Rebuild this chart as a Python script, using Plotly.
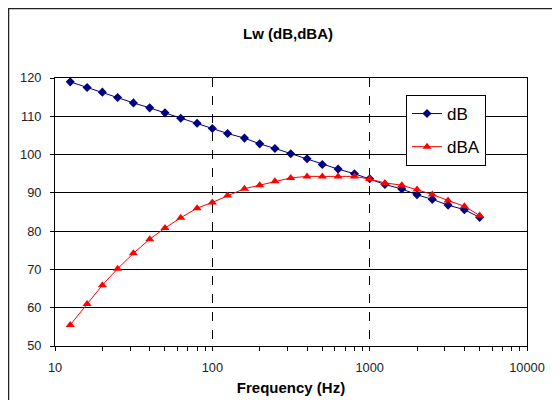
import plotly.graph_objects as go

freq = [12.5, 16, 20, 25, 31.5, 40, 50, 63, 80, 100, 125, 160, 200, 250, 315,
        400, 500, 630, 800, 1000, 1250, 1600, 2000, 2500, 3150, 4000, 5000]
lw_db = [119.0, 117.5, 116.3, 114.9, 113.5, 112.2, 110.9, 109.5, 108.2, 106.8,
         105.5, 104.3, 102.8, 101.6, 100.2, 98.9, 97.4, 96.2, 95.0, 93.7,
         92.2, 91.0, 89.5, 88.3, 86.8, 85.6, 83.6]
lw_dba = [55.5, 61.0, 65.9, 70.2, 74.2, 77.9, 80.8, 83.5, 86.0, 87.5,
          89.3, 91.1, 92.0, 93.0, 93.9, 94.3, 94.3, 94.3, 94.3, 93.6,
          92.6, 92.0, 90.9, 89.6, 88.0, 86.5, 84.1]
series_names = ["dB", "dBA"]
x_major = [10, 100, 1000, 10000]
x_minor = [m * d for d in (10, 100, 1000) for m in range(2, 10)]
y_ticks = [50, 60, 70, 80, 90, 100, 110, 120]

FONT = "Liberation Sans, Arial, sans-serif"

fig = go.Figure()
fig.add_trace(go.Scatter(
    x=freq, y=lw_db, name=series_names[0], mode="lines+markers",
    line=dict(color="#000080", width=1),
    marker=dict(symbol="diamond", size=7, color="#000080"),
    legendgroup="a"))
fig.add_trace(go.Scatter(
    x=freq, y=lw_dba, name=series_names[1], mode="lines+markers",
    line=dict(color="#FF0000", width=1),
    marker=dict(symbol="triangle-up", size=8, color="#FF0000"),
    legendgroup="b"))

# page body has an 8px margin, so figure coords = screen coords - 8
OFF = 8
W, H = 560, 400
L, T = 55 - OFF, 78 - OFF
Rx, By = 527 - OFF, 346 - OFF
R, B = W - Rx, H - By
pw, ph = Rx - L, By - T

def px(x):
    return (x - OFF - L) / pw

def py(y):
    return 1 - (y - OFF - T) / ph

fig.update_layout(
    width=W, height=H,
    margin=dict(l=L, r=R, t=T, b=B, pad=0),
    paper_bgcolor="white", plot_bgcolor="white",
    font=dict(family=FONT, size=12.8, color="#222222"),
    title=dict(text="<b>Lw (dB,dBA)</b>", x=px(288), xref="paper",
               xanchor="center", y=1 - (34 - OFF) / H, yanchor="middle",
               font=dict(size=15, color="#000000")),
    showlegend=True,
    legend=dict(x=px(406), y=py(95), xanchor="left", yanchor="top",
                bgcolor="white", bordercolor="#000000", borderwidth=1,
                font=dict(size=17, color="#000000"),
                traceorder="grouped", tracegroupgap=8,
                itemwidth=30),
    xaxis=dict(type="log", range=[1, 4],
               tickvals=x_major, ticktext=[str(v) for v in x_major],
               ticks="outside", ticklen=4, tickcolor="#000",
               showline=True, linecolor="#000", linewidth=1, mirror=True,
               showgrid=True, gridcolor="#000", gridwidth=1, griddash="dash",
               zeroline=False,
               minor=dict(tickvals=x_minor, ticks="outside", ticklen=4,
                          tickcolor="#000", showgrid=False),
               title=dict(text="<b>Frequency (Hz)</b>",
                          font=dict(size=15, color="#000"), standoff=8),
               ticklabelstandoff=6),
    yaxis=dict(range=[50, 120], tickvals=y_ticks,
               ticks="outside", ticklen=4, tickcolor="#000",
               showline=True, linecolor="#000", linewidth=1, mirror=True,
               showgrid=True, gridcolor="#000", gridwidth=1,
               zeroline=False, ticklabelstandoff=6),
    shapes=[dict(type="rect", xref="paper", yref="paper",
                 x0=px(8.5), x1=px(800), y0=py(8.5), y1=py(800),
                 line=dict(color="#222", width=1.5), layer="below")],
)

fig.write_html("out.html")
